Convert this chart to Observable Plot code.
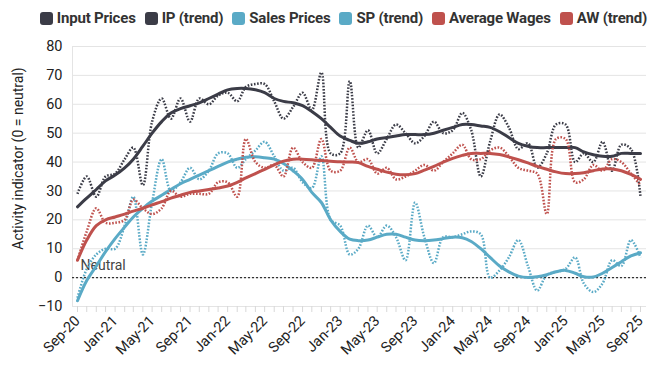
<!DOCTYPE html>
<html>
<head>
<meta charset="utf-8">
<script src="https://cdn.jsdelivr.net/npm/d3@7"></script>
<script src="https://cdn.jsdelivr.net/npm/@observablehq/plot@0.6"></script>
<style>
  html, body { margin: 0; padding: 0; background: #fff; }
  #legend { height: 36px; display: flex; align-items: center; justify-content: center; padding-left: 28px; box-sizing: border-box;
    font-family: Roboto, sans-serif; font-weight: 700; font-size: 15px; color: #333; letter-spacing: -0.2px; }
  #legend .item { display: flex; align-items: center; margin-right: 9px; }
  #legend .item:last-child { margin-right: 0; }
  #legend .sw { width: 13px; height: 13px; border-radius: 3px; margin-right: 4px; }
</style>
</head>
<body>
<div id="legend"></div>
<div id="chart"></div>
<script>
// Months Sep-20 .. Sep-25
const startMonth = new Date(Date.UTC(2020, 8, 1));
const endMonth = new Date(Date.UTC(2025, 8, 1));
const months = d3.utcMonth.range(startMonth, d3.utcMonth.offset(endMonth, 1));

const inputPrices = [29,35,28,35,36,41,45,32,54,62,55,62,54,62,60,63,64,61,66,67,67,61,55,59,64,58,71,43,43,68,45,51,43,48,53,50,46.5,49,54,50,51,57,51,35,47,56.5,52,44.5,46.5,38,43,53,53,40,43,40,47,37,46,44.5,28];
const ipTrend = [24.5,27.5,30.5,33.5,35.5,38,41,45.5,50,54,57,58.5,59.5,60.5,62,63.5,65,65.5,65.5,65,64,62,61,60.5,59.5,57.5,55,52,49,47.5,46.5,47,48,48.5,49,49.5,49.5,49.5,50,51,52,53,53,52.5,52,50.5,48.5,46.5,45.5,45,45,45,45,45,43.5,42.5,42,42,43,43,43];
const salesPrices = [-7,3,8,10,10,18,28,8,26,41,30,33,38,34,37,43,43,38,41,44,47,42,37,38,33,31,42,20,18,8,10,18,14,18,14,6,26,14,5,14,14,15,16,15,0,2.5,7,13,4,-4.5,1,2,3,7,-2,-5,-2,6,4,13,7];
const spTrend = [-8,-1,4,9,13.5,17.5,21,24,26.5,28.5,30.5,32.5,34,35.5,37,38.5,40,41,41.7,41.8,41.5,41,39.5,37,34,29.5,26,20,16,13.3,12.8,13,14,15,15,14,13,12.8,13,13.5,14,13.8,12.5,10,7,4,2,0.5,0,0.3,1,2,2.5,1.5,0.3,0.2,1.5,3.5,5.5,7.5,8.6];
const averageWages = [6,16,24,19,19,20,27,24,22,24,30,28,29,29,29,33,33,28,48,40,38,39,35,45,40,38,48,37,37,45,40,41,36,38,34,35,37,39,37,40,43,46,41,41,44,45,42,38,37,36,22,48,48,33,34,39,37,41,40,36,32];
const awTrend = [6,13,18,20,21,22,23,24,25.2,26.3,27.5,28.5,29.5,30,30.5,31,31.7,33,34.5,36,37.5,39,40.3,41,41,40.8,40.5,40.3,40.1,40,39.8,38.5,37.5,36.5,35.8,35.6,36,37.2,38.5,40,41.3,42.3,43,43,43,42.6,41.8,40.8,39.7,38.5,37.5,36.6,36,36,36.3,37,37.6,37.6,37,35.7,34];

const seriesNames = ["Input Prices","IP (trend)","Sales Prices","SP (trend)","Average Wages","AW (trend)"];
const seriesValues = [inputPrices, ipTrend, salesPrices, spTrend, averageWages, awTrend];
const seriesColors = ["#3b3c47","#3b3c47","#5aaac6","#5aaac6","#bf514d","#bf514d"];
const seriesDashed = [true,false,true,false,true,false];

const yTicks = [-10,0,10,20,30,40,50,60,70,80];
const xTickEvery = 4;
const yLabel = "Activity indicator (0 = neutral)";
const neutralLabel = "Neutral";

// legend
const legend = document.getElementById("legend");
seriesNames.forEach((n, i) => {
  const it = document.createElement("div"); it.className = "item";
  const sw = document.createElement("div"); sw.className = "sw"; sw.style.background = seriesColors[i];
  const tx = document.createElement("span"); tx.textContent = n;
  it.appendChild(sw); it.appendChild(tx); legend.appendChild(it);
});

const labelTicks = months.filter((d, i) => i % xTickEvery === 0);
const fmt = d3.utcFormat("%b-%y");

const marks = [
  Plot.gridY(yTicks, {stroke: "#e4e4e4", strokeOpacity: 1}),
  Plot.frame({anchor: "left", stroke: "#e4e4e4"}),
  Plot.axisX({ticks: months, tickSize: 6, tickFormat: () => "", stroke: "#d8d8d8", strokeOpacity: 1}),
  Plot.axisX({ticks: labelTicks, tickSize: 0, tickPadding: 12, tickRotate: -45, tickFormat: fmt, fill: "#222", fontSize: 14.5, label: null}),
  Plot.axisY({ticks: yTicks, tickSize: 0, tickPadding: 10, fill: "#222", fontSize: 14.5, label: null}),
  Plot.text([yLabel], {frameAnchor: "left", textAnchor: "middle", dx: -54, dy: -18, rotate: -90, fontSize: 14, fill: "#222"}),
  Plot.ruleY([0], {stroke: "#333", strokeWidth: 1.2, strokeDasharray: "2,2"}),
  Plot.text([neutralLabel], {x: () => months[0], y: () => 0, dx: 3, dy: -12, textAnchor: "start", fontSize: 14, fill: "#444"})
];

seriesValues.forEach((vals, s) => {
  const rows = vals.map((v, i) => ({date: months[i], value: v}));
  const opts = {
    x: "date", y: "value", stroke: seriesColors[s],
    strokeWidth: seriesDashed[s] ? 2.5 : 3,
    curve: "catmull-rom"
  };
  if (seriesDashed[s]) { opts.strokeDasharray = "1.6,1.6"; opts.strokeLinecap = "butt"; }
  marks.push(Plot.line(rows, opts));
});

const chart = Plot.plot({
  width: 659,
  height: 345,
  marginTop: 10,
  marginBottom: 75,
  marginLeft: 72,
  marginRight: 13,
  style: {fontFamily: "Roboto, sans-serif", fontSize: "14px", background: "#fff"},
  x: {type: "utc", domain: [startMonth, endMonth], insetLeft: 5, insetRight: 6},
  y: {domain: [-10, 80]},
  marks
});
document.getElementById("chart").appendChild(chart);
</script>
</body>
</html>
